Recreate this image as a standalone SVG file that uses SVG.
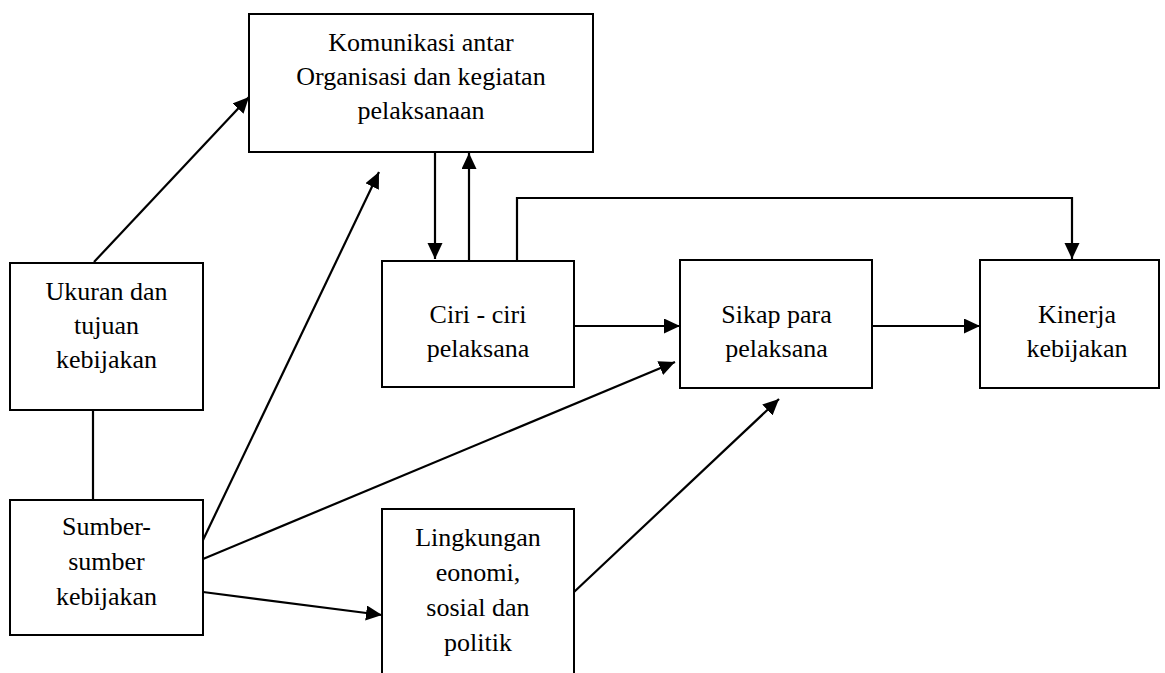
<svg xmlns="http://www.w3.org/2000/svg" width="1165" height="673" viewBox="0 0 1165 673">
<style>
  .box { fill: #ffffff; stroke: #000000; stroke-width: 2; }
  .t { font-family: 'Liberation Serif', 'Times New Roman', serif; font-size: 26px; fill: #000000; text-anchor: middle; }
  .c { fill: none; stroke: #000000; stroke-width: 2.2; }
</style>
<defs>
  <marker id="arr" markerUnits="userSpaceOnUse" markerWidth="17" markerHeight="16" refX="16" refY="7.5" orient="auto">
    <path d="M0,0 L16,7.5 L0,15 z" fill="#000000"/>
  </marker>
</defs>
<rect x="0" y="0" width="1165" height="673" fill="#ffffff"/>

<g id="connectors">
  <line class="c" x1="93" y1="410" x2="93" y2="500"/>
  <line class="c" x1="94" y1="262" x2="249" y2="97" marker-end="url(#arr)"/>
  <line class="c" x1="203" y1="540" x2="379" y2="172" marker-end="url(#arr)"/>
  <line class="c" x1="203" y1="559" x2="675" y2="362" marker-end="url(#arr)"/>
  <line class="c" x1="203" y1="592" x2="382" y2="615" marker-end="url(#arr)"/>
  <line class="c" x1="574" y1="592" x2="779" y2="399" marker-end="url(#arr)"/>
  <line class="c" x1="574" y1="326" x2="680" y2="326" marker-end="url(#arr)"/>
  <line class="c" x1="872" y1="326" x2="980" y2="326" marker-end="url(#arr)"/>
  <line class="c" x1="435" y1="152" x2="435" y2="259" marker-end="url(#arr)"/>
  <line class="c" x1="469" y1="261" x2="469" y2="153" marker-end="url(#arr)"/>
  <polyline class="c" points="517,260 517,198 1072,198 1072,259" marker-end="url(#arr)"/>
</g>

<g id="node-komunikasi">
  <rect class="box" x="249" y="14" width="344" height="138"/>
  <text class="t" x="421" y="51">Komunikasi antar</text>
  <text class="t" x="421" y="85">Organisasi dan kegiatan</text>
  <text class="t" x="421" y="119">pelaksanaan</text>
</g>

<g id="node-ukuran">
  <rect class="box" x="10" y="263" width="193" height="147"/>
  <text class="t" x="106.5" y="300">Ukuran dan</text>
  <text class="t" x="106.5" y="334">tujuan</text>
  <text class="t" x="106.5" y="368">kebijakan</text>
</g>

<g id="node-sumber">
  <rect class="box" x="10" y="500" width="193" height="135"/>
  <text class="t" x="106.5" y="535">Sumber-</text>
  <text class="t" x="106.5" y="570">sumber</text>
  <text class="t" x="106.5" y="605">kebijakan</text>
</g>

<g id="node-ciri">
  <rect class="box" x="382" y="261" width="192" height="126"/>
  <text class="t" x="478" y="323">Ciri - ciri</text>
  <text class="t" x="478" y="357">pelaksana</text>
</g>

<g id="node-sikap">
  <rect class="box" x="680" y="260" width="192" height="128"/>
  <text class="t" x="776.5" y="323">Sikap para</text>
  <text class="t" x="776.5" y="357">pelaksana</text>
</g>

<g id="node-kinerja">
  <rect class="box" x="980" y="260" width="179" height="128"/>
  <text class="t" x="1077" y="323">Kinerja</text>
  <text class="t" x="1077" y="357">kebijakan</text>
</g>

<g id="node-lingkungan">
  <rect class="box" x="382" y="509" width="192" height="180"/>
  <text class="t" x="478" y="546">Lingkungan</text>
  <text class="t" x="478" y="581">eonomi,</text>
  <text class="t" x="478" y="616">sosial dan</text>
  <text class="t" x="478" y="651">politik</text>
</g>
</svg>
